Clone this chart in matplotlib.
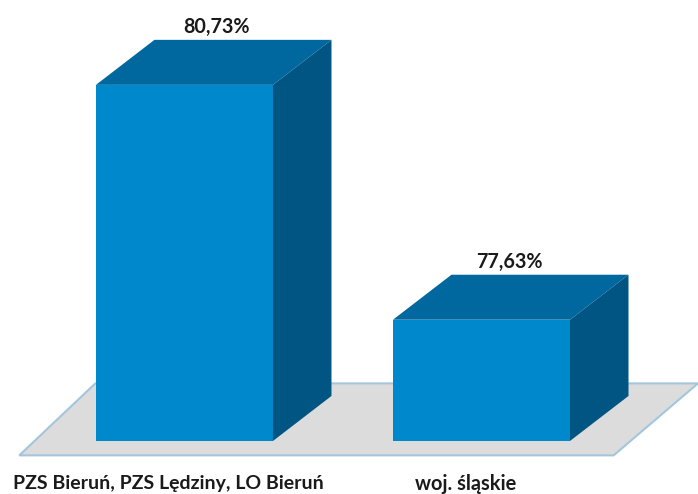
import matplotlib
matplotlib.use('Agg')
import matplotlib.pyplot as plt
from matplotlib.patches import Polygon

labels = ['PZS Bieruń, PZS Lędziny, LO Bieruń', 'woj. śląskie']
values = [80.73, 77.63]
value_labels = ['80,73%', '77,63%']

base = 76.03
bar_w = 0.596
dx = 0.197   # depth of the 3d box, in x units
dy = 0.594   # depth of the 3d box, in value units
label_shift = [0.008, -0.003]

plt.rcParams['font.family'] = ['Lato', 'DejaVu Sans']
fig = plt.figure(figsize=(6.98, 4.94), dpi=100)
ax = fig.add_axes([0, 0, 1, 1])
ax.set_xlim(-0.621, 1.729)
ax.set_ylim(75.33, 81.85)
ax.axis('off')

# floor
ax.add_patch(Polygon([(-0.556, base - 0.19), (1.445, base - 0.19), (1.729, base + 0.76), (-0.30, base + 0.76)],
                     facecolor='#dcdcdc', edgecolor='#a3c6dc', linewidth=1.5, zorder=1))

for i in range(len(values)):
    v = values[i]
    l = i - bar_w / 2
    r = i + bar_w / 2
    ax.add_patch(Polygon([(l, base), (r, base), (r, v), (l, v)], facecolor='#0088cc', edgecolor='none', zorder=3))
    ax.add_patch(Polygon([(l, v), (r, v), (r + dx, v + dy), (l + dx, v + dy)], facecolor='#00689f', edgecolor='none', zorder=3))
    ax.add_patch(Polygon([(r, base), (r + dx, base + dy), (r + dx, v + dy), (r, v)], facecolor='#005582', edgecolor='none', zorder=3))
    ax.text(i + dx / 2 + label_shift[i], v + dy + 0.17, value_labels[i], ha='center', va='center',
            fontsize=14.2, fontweight='bold', color='#1a1a1a')

ax.text(-0.055, 75.465, labels[0], ha='center', va='center', fontsize=14, fontweight='bold', color='#1a1a1a')
ax.text(0.948, 75.465, labels[1], ha='center', va='center', fontsize=14.4, fontweight='bold', color='#1a1a1a')

fig.savefig('out.png', dpi=100)
